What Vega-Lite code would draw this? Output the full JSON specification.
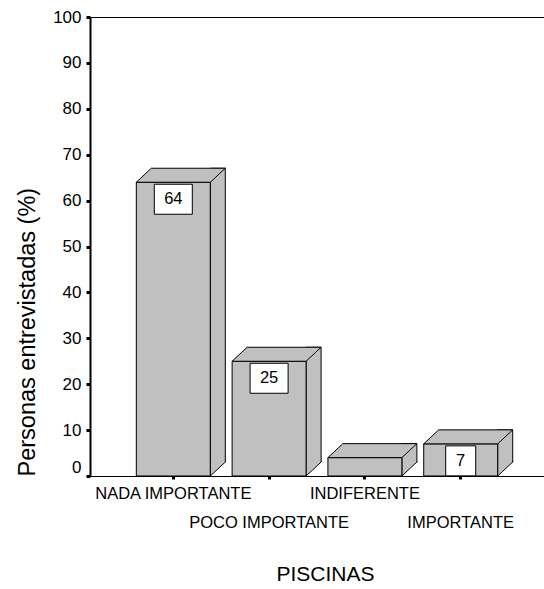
{
  "$schema": "https://vega.github.io/schema/vega-lite/v6.json",
  "width": 454,
  "height": 459,
  "autosize": "none",
  "padding": {"left": 90, "top": 17, "right": 0, "bottom": 113},
  "background": "white",
  "config": {
    "view": {"stroke": null},
    "font": "Liberation Sans",
    "axis": {
      "grid": false,
      "domainColor": "black",
      "tickColor": "black",
      "labelColor": "black",
      "titleColor": "black",
      "titleFontWeight": "normal",
      "labelFont": "Liberation Sans",
      "titleFont": "Liberation Sans"
    }
  },
  "data": {
    "values": [
      {"cat": "NADA IMPORTANTE", "pct": 64},
      {"cat": "POCO IMPORTANTE", "pct": 25},
      {"cat": "INDIFERENTE", "pct": 4},
      {"cat": "IMPORTANTE", "pct": 7}
    ]
  },
  "resolve": {"axis": {"x": "independent"}},
  "layer": [
    {
      "mark": {"type": "bar", "size": 15, "xOffset": 44.5, "yOffset": -14, "y2Offset": -14, "fill": "#c0c0c0", "stroke": "black", "strokeWidth": 1},
      "encoding": {
        "x": {
          "field": "cat", "type": "nominal", "sort": null,
          "scale": {"paddingInner": 0.228, "paddingOuter": 0.4835},
          "axis": {
            "orient": "bottom",
            "title": "PISCINAS",
            "titleFontSize": 21,
            "titlePadding": 33,
            "titleX": 235,
            "labelFontSize": 16.5,
            "labelAngle": 0,
            "labelPadding": 6,
            "labelLineHeight": 29,
            "labelOverlap": false,
            "labelBound": false,
            "labelFlush": false,
            "labelLimit": 0,
            "labelExpr": "(datum.value == 'POCO IMPORTANTE' || datum.value == 'IMPORTANTE') ? ['', datum.value] : datum.value",
            "tickSize": 3,
            "tickWidth": 3,
            "domainWidth": 1
          }
        },
        "y": {
          "field": "pct", "type": "quantitative",
          "scale": {"domain": [0, 100], "nice": false},
          "axis": {
            "title": "Personas entrevistadas (%)",
            "titleFontSize": 23.5,
            "titleAnchor": "start",
            "titlePadding": 13,
            "labelFontSize": 17,
            "labelPadding": 5,
            "tickSize": 4,
            "tickWidth": 3,
            "domainWidth": 2,
            "values": [0, 10, 20, 30, 40, 50, 60, 70, 80, 90, 100],
            "labelBaseline": {"condition": {"test": "datum.value === 0", "value": "bottom"}, "value": "middle"}
          }
        },
        "y2": {"datum": 0}
      }
    },
    {
      "mark": {"type": "point", "shape": "M52,-15 L52,-14 L37,0 L37,-15", "size": 4, "filled": true, "fill": "#c0c0c0", "stroke": "black", "strokeWidth": 1, "opacity": 1},
      "encoding": {
        "x": {"field": "cat", "type": "nominal", "sort": null, "axis": null},
        "y": {"datum": 0}
      }
    },
    {
      "mark": {"type": "bar", "fill": "#c0c0c0", "stroke": "black", "strokeWidth": 1},
      "encoding": {
        "x": {"field": "cat", "type": "nominal", "sort": null, "axis": null},
        "y": {"field": "pct", "type": "quantitative"}
      }
    },
    {
      "mark": {"type": "point", "shape": "M-37,0 L37,0 L52,-14 L-22,-14 Z", "size": 4, "filled": true, "fill": "#c0c0c0", "stroke": "black", "strokeWidth": 1, "opacity": 1},
      "encoding": {
        "x": {
          "field": "cat", "type": "nominal", "sort": null,
          "axis": {"orient": "top", "labels": false, "ticks": false, "title": null, "domainWidth": 1}
        },
        "y": {"field": "pct", "type": "quantitative"}
      }
    },
    {
      "transform": [{"filter": "datum.cat !== 'INDIFERENTE'"}],
      "mark": {"type": "bar", "fill": "white", "stroke": "black", "strokeWidth": 1, "yOffset": 2, "y2Offset": 32},
      "encoding": {
        "x": {"field": "cat", "type": "nominal", "sort": null, "axis": null},
        "y": {"field": "pct", "type": "quantitative"},
        "y2": {"field": "pct"},
        "size": {"condition": {"test": "datum.pct < 10", "value": 30}, "value": 38}
      }
    },
    {
      "transform": [{"filter": "datum.cat !== 'INDIFERENTE'"}],
      "mark": {"type": "text", "fontSize": 16.5, "yOffset": 17, "baseline": "middle", "color": "black"},
      "encoding": {
        "x": {"field": "cat", "type": "nominal", "sort": null, "axis": null},
        "y": {"field": "pct", "type": "quantitative"},
        "text": {"field": "pct", "type": "quantitative"}
      }
    }
  ]
}
